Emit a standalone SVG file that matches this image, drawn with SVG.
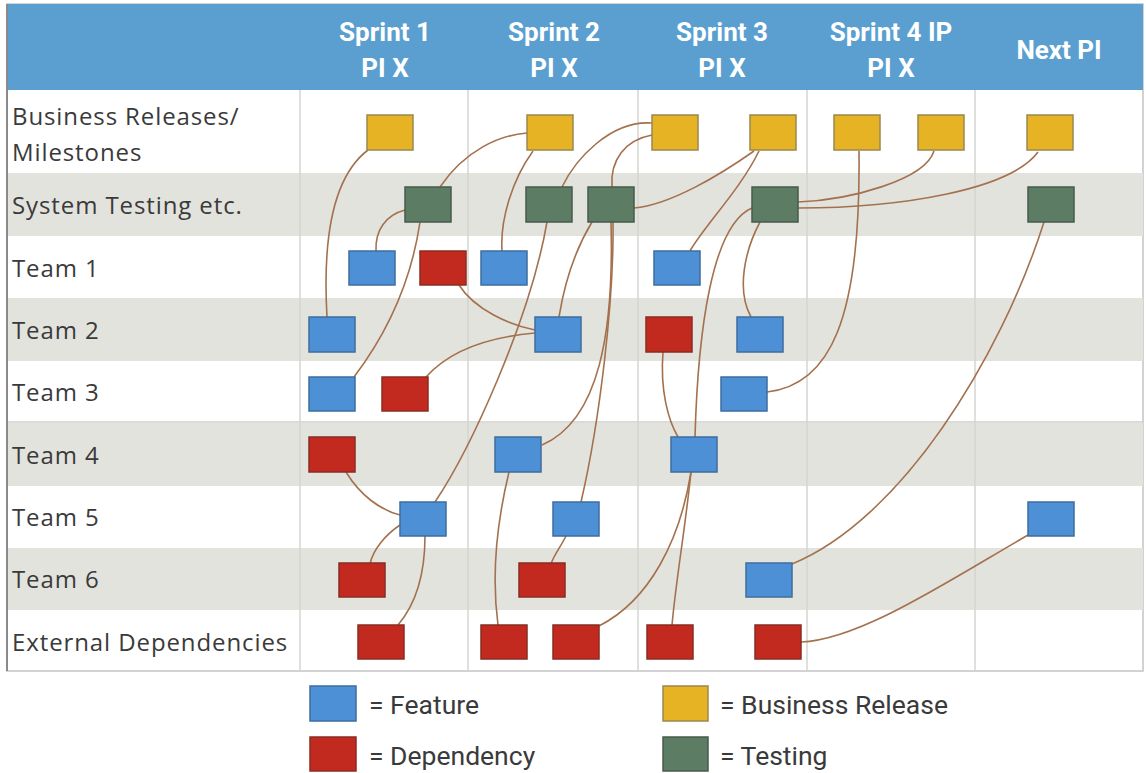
<svg xmlns="http://www.w3.org/2000/svg" width="1146" height="773" viewBox="0 0 1146 773">
<style>
.hdr{font-family:Roboto,"Liberation Sans",sans-serif;font-weight:bold;font-size:26px;fill:#ffffff;text-anchor:middle}
.lbl{font-family:"Open Sans","Liberation Sans",sans-serif;font-size:24px;letter-spacing:0.9px;fill:#3a3a3a}
.leg{font-family:Roboto,"Liberation Sans",sans-serif;font-size:26.5px;fill:#3a3a3a}
.f{fill:#4d90d6;stroke:#3d6e9e;stroke-width:1.5}
.d{fill:#c22a20;stroke:#8b2c22;stroke-width:1.5}
.y{fill:#e5b324;stroke:#9b8750;stroke-width:1.5}
.t{fill:#5c7d63;stroke:#485a4c;stroke-width:1.5}
.c{fill:none;stroke:#a3714e;stroke-width:1.6}
.g{fill:#e3e3de}
.v{stroke:#d4d4d0;stroke-width:1.5}
</style>
<rect width="1146" height="773" fill="#ffffff"/>
<g id="table">
<rect x="7" y="4" width="1136" height="667" fill="#ffffff" stroke="#c4c4c4" stroke-width="1.5"/>
<rect x="7" y="4" width="1136" height="86" fill="#5a9fd0"/>
<rect class="g" x="7" y="173" width="1136" height="63"/>
<rect class="g" x="7" y="298" width="1136" height="63"/>
<rect class="g" x="7" y="423" width="1136" height="63"/>
<rect class="g" x="7" y="548" width="1136" height="62"/>
<line x1="7" y1="422" x2="1143" y2="422" stroke="#cfcfcb" stroke-width="1.5"/>
<line class="v" x1="300" y1="90" x2="300" y2="671"/>
<line class="v" x1="468" y1="90" x2="468" y2="671"/>
<line class="v" x1="638" y1="90" x2="638" y2="671"/>
<line class="v" x1="807" y1="90" x2="807" y2="671"/>
<line class="v" x1="975" y1="90" x2="975" y2="671"/>
<line x1="7" y1="4" x2="7" y2="671" stroke="#8a8a8a" stroke-width="2"/>
<text class="hdr" x="385" y="41">Sprint 1</text><text class="hdr" x="385" y="77">PI X</text>
<text class="hdr" x="554" y="41">Sprint 2</text><text class="hdr" x="554" y="77">PI X</text>
<text class="hdr" x="722" y="41">Sprint 3</text><text class="hdr" x="722" y="77">PI X</text>
<text class="hdr" x="891" y="41">Sprint 4 IP</text><text class="hdr" x="891" y="77">PI X</text>
<text class="hdr" x="1059" y="59">Next PI</text>
<text class="lbl" x="12" y="125">Business Releases/</text>
<text class="lbl" x="12" y="161">Milestones</text>
<text class="lbl" x="12" y="214">System Testing etc.</text>
<text class="lbl" x="12" y="277">Team 1</text>
<text class="lbl" x="12" y="339">Team 2</text>
<text class="lbl" x="12" y="401">Team 3</text>
<text class="lbl" x="12" y="464">Team 4</text>
<text class="lbl" x="12" y="526">Team 5</text>
<text class="lbl" x="12" y="588">Team 6</text>
<text class="lbl" x="12" y="651">External Dependencies</text>
</g>
<g id="connectors">
<path class="c" d="M368,150 C 335,175 322,230 327,317"/>
<path class="c" d="M440,187 C 465,150 500,135 527,133"/>
<path class="c" d="M405,210 C 386,215 375,230 376,251"/>
<path class="c" d="M420,222 C 410,290 382,340 354,377"/>
<path class="c" d="M533,151 C 512,180 500,220 502,251"/>
<path class="c" d="M652,123 C 610,120 575,160 562,187"/>
<path class="c" d="M652,135 C 625,140 610,160 612,187"/>
<path class="c" d="M754,151 C 720,175 670,205 634,208"/>
<path class="c" d="M759,151 C 740,190 705,225 690,251"/>
<path class="c" d="M752,208 C 712,225 698,330 695,437"/>
<path class="c" d="M760,222 C 745,250 736,290 751,317"/>
<path class="c" d="M859,151 C 861,320 830,385 767,392"/>
<path class="c" d="M934,151 C 925,180 850,200 798,202"/>
<path class="c" d="M1038,152 C 1010,190 900,208 798,208"/>
<path class="c" d="M1044,222 C 1000,360 900,520 792,564"/>
<path class="c" d="M1028,535 C 950,580 860,640 801,642"/>
<path class="c" d="M547,222 C 530,320 470,450 435,502"/>
<path class="c" d="M592,222 C 575,250 565,280 559,317"/>
<path class="c" d="M611,222 C 614,330 600,420 542,445"/>
<path class="c" d="M613,222 C 614,300 600,420 581,502"/>
<path class="c" d="M459,285 C 475,310 510,325 535,330"/>
<path class="c" d="M426,377 C 450,350 490,337 535,333"/>
<path class="c" d="M663,352 C 660,390 668,420 678,437"/>
<path class="c" d="M691,472 C 680,540 650,600 599,626"/>
<path class="c" d="M691,472 C 685,530 676,580 672,625"/>
<path class="c" d="M509,472 C 495,530 492,580 498,625"/>
<path class="c" d="M566,536 C 560,548 554,555 551,564"/>
<path class="c" d="M346,472 C 360,495 380,510 400,515"/>
<path class="c" d="M400,525 C 385,535 373,550 370,564"/>
<path class="c" d="M425,536 C 425,575 415,605 398,625"/>
</g>
<g id="Y1"><rect class="y" x="367" y="115" width="46" height="35"/></g>
<g id="Y2"><rect class="y" x="527" y="115" width="46" height="35"/></g>
<g id="Y3"><rect class="y" x="652" y="115" width="46" height="35"/></g>
<g id="Y4"><rect class="y" x="750" y="115" width="46" height="35"/></g>
<g id="Y5"><rect class="y" x="834" y="115" width="46" height="35"/></g>
<g id="Y6"><rect class="y" x="918" y="115" width="46" height="35"/></g>
<g id="Y7"><rect class="y" x="1027" y="115" width="46" height="35"/></g>
<g id="G1"><rect class="t" x="405" y="187" width="46" height="35"/></g>
<g id="G2"><rect class="t" x="526" y="187" width="46" height="35"/></g>
<g id="G3"><rect class="t" x="588" y="187" width="46" height="35"/></g>
<g id="G4"><rect class="t" x="752" y="187" width="46" height="35"/></g>
<g id="G5"><rect class="t" x="1028" y="187" width="46" height="35"/></g>
<g id="B1"><rect class="f" x="349" y="251" width="46" height="34"/></g>
<g id="R1"><rect class="d" x="420" y="251" width="46" height="34"/></g>
<g id="B2"><rect class="f" x="481" y="251" width="46" height="34"/></g>
<g id="B3"><rect class="f" x="654" y="251" width="46" height="34"/></g>
<g id="B4"><rect class="f" x="309" y="317" width="46" height="35"/></g>
<g id="B5"><rect class="f" x="535" y="317" width="46" height="35"/></g>
<g id="R2"><rect class="d" x="646" y="317" width="46" height="35"/></g>
<g id="B6"><rect class="f" x="737" y="317" width="46" height="35"/></g>
<g id="B7"><rect class="f" x="309" y="377" width="46" height="34"/></g>
<g id="R3"><rect class="d" x="382" y="377" width="46" height="34"/></g>
<g id="B8"><rect class="f" x="721" y="377" width="46" height="34"/></g>
<g id="R4"><rect class="d" x="309" y="437" width="46" height="35"/></g>
<g id="B9"><rect class="f" x="495" y="437" width="46" height="35"/></g>
<g id="B10"><rect class="f" x="671" y="437" width="46" height="35"/></g>
<g id="B11"><rect class="f" x="400" y="502" width="46" height="34"/></g>
<g id="B12"><rect class="f" x="553" y="502" width="46" height="34"/></g>
<g id="B13"><rect class="f" x="1028" y="502" width="46" height="34"/></g>
<g id="R5"><rect class="d" x="339" y="563" width="46" height="34"/></g>
<g id="R6"><rect class="d" x="519" y="563" width="46" height="34"/></g>
<g id="B14"><rect class="f" x="746" y="563" width="46" height="34"/></g>
<g id="R7"><rect class="d" x="358" y="625" width="46" height="34"/></g>
<g id="R8"><rect class="d" x="481" y="625" width="46" height="34"/></g>
<g id="R9"><rect class="d" x="553" y="625" width="46" height="34"/></g>
<g id="R10"><rect class="d" x="647" y="625" width="46" height="34"/></g>
<g id="R11"><rect class="d" x="755" y="625" width="46" height="34"/></g>
<g id="legend">
<rect class="f" x="310" y="686" width="46" height="35"/>
<text class="leg" x="369" y="714">= Feature</text>
<rect class="d" x="310" y="737" width="46" height="34"/>
<text class="leg" x="369" y="765">= Dependency</text>
<rect class="y" x="663" y="686" width="45" height="35"/>
<text class="leg" x="720" y="714">= Business Release</text>
<rect class="t" x="663" y="737" width="45" height="34"/>
<text class="leg" x="720" y="765">= Testing</text>
</g>
</svg>
